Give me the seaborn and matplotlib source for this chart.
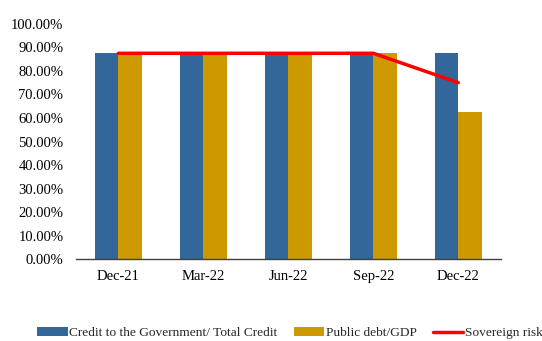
import matplotlib
matplotlib.use("Agg")
import matplotlib.pyplot as plt
import seaborn as sns
import pandas as pd
from matplotlib.patches import Patch
from matplotlib.lines import Line2D
from matplotlib.ticker import PercentFormatter

quarters = ["Dec-21", "Mar-22", "Jun-22", "Sep-22", "Dec-22"]
credit_to_gov = [0.875, 0.875, 0.875, 0.875, 0.875]
public_debt_gdp = [0.875, 0.875, 0.875, 0.875, 0.625]
sovereign_risk = [0.875, 0.875, 0.875, 0.875, 0.75]

series_names = ["Credit to the Government/ Total Credit", "Public debt/GDP"]
bar_colors = ["#336699", "#CC9900"]
line_name = "Sovereign risk"
line_color = "#FF0000"

sns.set_theme(style="white")
plt.rcParams["font.family"] = ["Liberation Serif", "DejaVu Serif"]

bars = pd.DataFrame({
    "quarter": quarters * 2,
    "value": credit_to_gov + public_debt_gdp,
    "series": [series_names[0]] * len(quarters) + [series_names[1]] * len(quarters),
})

fig = plt.figure(figsize=(5.42, 3.41), dpi=100)
ax = fig.add_axes([0.140, 0.240, 0.784, 0.690])

sns.barplot(data=bars, x="quarter", y="value", hue="series", order=quarters,
            hue_order=series_names, palette=bar_colors, width=0.56, gap=0,
            saturation=1, edgecolor="none", legend=False, ax=ax)
sns.lineplot(x=quarters, y=sovereign_risk, color=line_color, linewidth=2.5,
             sort=False, ax=ax)

ax.set_xlim(-0.5, 4.5)
ax.set_ylim(0, 1.0)
ax.set_yticks([i / 10 for i in range(11)])
ax.yaxis.set_major_formatter(PercentFormatter(1.0, decimals=2))
ax.set_xlabel("")
ax.set_ylabel("")
for side in ["top", "right", "left"]:
    ax.spines[side].set_visible(False)
ax.spines["bottom"].set_color("#404040")
ax.spines["bottom"].set_linewidth(1.0)
ax.tick_params(axis="both", length=0, labelsize=10.5, colors="black")
ax.tick_params(axis="x", pad=8)
ax.tick_params(axis="y", pad=9)

handles = [
    Patch(facecolor=bar_colors[0], edgecolor="none", label=series_names[0]),
    Patch(facecolor=bar_colors[1], edgecolor="none", label=series_names[1]),
    Line2D([0], [0], color=line_color, linewidth=2.5, label=line_name),
]
fig.legend(handles=handles, loc="center", ncol=3, frameon=False,
           bbox_to_anchor=(0.535, 1 - 333 / 341), fontsize=9.6,
           handlelength=2.3, handleheight=0.6, handletextpad=0.1,
           columnspacing=1.2, borderpad=0.1)

fig.savefig("out.png", dpi=100)
